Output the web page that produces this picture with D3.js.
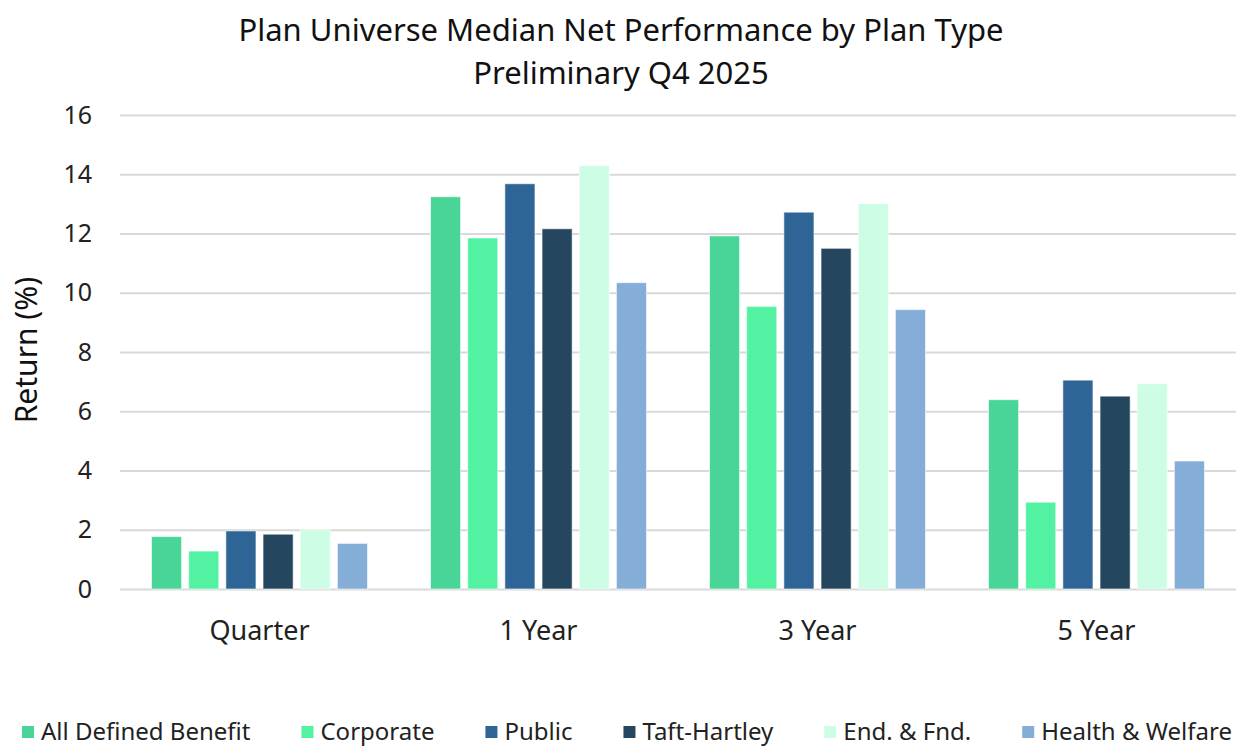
<!DOCTYPE html>
<html>
<head>
<meta charset="utf-8">
<script src="https://cdn.jsdelivr.net/npm/d3@7"></script>
<style>
  body { margin: 0; background: #fff; }
  svg { display: block; font-family: "Noto Sans", "Open Sans", sans-serif; }
</style>
</head>
<body>
<div id="chart"></div>
<script>
// data
var categories = ["Quarter", "1 Year", "3 Year", "5 Year"];
var seriesNames = ["All Defined Benefit", "Corporate", "Public", "Taft-Hartley", "End. & Fnd.", "Health & Welfare"];
var allDefinedBenefit = [1.77, 13.24, 11.92, 6.39];
var corporate = [1.28, 11.85, 9.54, 2.93];
var publicPlans = [1.96, 13.68, 12.72, 7.05];
var taftHartley = [1.85, 12.16, 11.50, 6.51];
var endFnd = [2.00, 14.29, 13.01, 6.93];
var healthWelfare = [1.54, 10.34, 9.43, 4.32];
var yTicks = [0, 2, 4, 6, 8, 10, 12, 14, 16];

var seriesValues = [allDefinedBenefit, corporate, publicPlans, taftHartley, endFnd, healthWelfare];
var colors = ["#48D597", "#52F2A2", "#2F6596", "#24465F", "#CDFDE4", "#84ADD8"];

var width = 1237, height = 751;
var plotLeft = 120, plotRight = 1236, plotTop = 115, plotBottom = 589;

var svg = d3.select("#chart")
    .append("svg")
    .attr("width", width)
    .attr("height", height);

var x0 = d3.scaleBand()
    .domain(categories)
    .range([plotLeft, plotRight]);

var x1 = d3.scaleBand()
    .domain(seriesNames)
    .range([31.5, x0.bandwidth() - 31.5])
    .paddingInner(0.19);

var y = d3.scaleLinear()
    .domain([0, 16])
    .range([plotBottom, plotTop]);

// gridlines
var yAxis = svg.append("g")
    .attr("class", "axis axis-y")
    .attr("transform", "translate(" + plotLeft + ",0)")
    .call(d3.axisLeft(y).tickValues(yTicks).tickSize(-(plotRight - plotLeft)).tickPadding(28));
yAxis.select(".domain").remove();
yAxis.selectAll(".tick line")
    .attr("stroke", "#D9D9D9")
    .attr("stroke-width", 2);
yAxis.selectAll(".tick text")
    .attr("fill", "#222")
    .style("font-size", "25px")
    .style("font-family", "Noto Sans");

// bars
var groups = svg.append("g")
    .selectAll("g")
    .data(categories)
    .enter()
    .append("g")
    .attr("transform", function(d) { return "translate(" + x0(d) + ",0)"; });

groups.selectAll("rect")
    .data(function(d, i) {
        return seriesNames.map(function(s, j) { return {series: s, value: seriesValues[j][i], idx: j}; });
    })
    .enter()
    .append("rect")
    .attr("x", function(d) { return x1(d.series); })
    .attr("width", x1.bandwidth())
    .attr("y", function(d) { return y(d.value); })
    .attr("height", function(d) { return y(0) - y(d.value); })
    .attr("fill", function(d) { return colors[d.idx]; })
    .attr("stroke", "rgba(255,255,255,0.6)")
    .attr("stroke-width", 1);

// x axis labels
var xAxis = svg.append("g")
    .attr("class", "axis axis-x")
    .attr("transform", "translate(0," + plotBottom + ")")
    .call(d3.axisBottom(x0).tickSize(0).tickPadding(32));
xAxis.select(".domain").remove();
xAxis.selectAll(".tick text")
    .attr("fill", "#222")
    .style("font-size", "27px")
    .style("font-family", "Noto Sans");

// titles
svg.append("text")
    .attr("x", 621)
    .attr("y", 41)
    .attr("text-anchor", "middle")
    .attr("fill", "#111")
    .style("font-size", "31px")
    .text("Plan Universe  Median Net Performance by Plan Type");

svg.append("text")
    .attr("x", 621)
    .attr("y", 84)
    .attr("text-anchor", "middle")
    .attr("fill", "#111")
    .style("font-size", "31px")
    .text("Preliminary Q4 2025");

svg.append("text")
    .attr("transform", "translate(37,350) rotate(-90)")
    .attr("text-anchor", "middle")
    .attr("fill", "#111")
    .style("font-size", "30px")
    .text("Return (%)");

// legend
var legend = svg.append("g").attr("class", "legend");
var items = legend.selectAll("g")
    .data(seriesNames)
    .enter()
    .append("g");

items.append("rect")
    .attr("width", 12)
    .attr("height", 12)
    .attr("y", -14)
    .attr("fill", function(d, i) { return colors[i]; });

items.append("text")
    .attr("x", 19)
    .attr("fill", "#222")
    .style("font-size", "24px")
    .text(function(d) { return d; });

var xpos = 22;
var total = 0;
items.each(function() {
    total += 19 + d3.select(this).select("text").node().getComputedTextLength();
});
// fit the row into the same span as the reference
var gap = (1232 - 22 - total) / (seriesNames.length - 1);
items.each(function() {
    var w = d3.select(this).select("text").node().getComputedTextLength();
    d3.select(this).attr("transform", "translate(" + xpos + ",740)");
    xpos += 19 + w + gap;
});
</script>
</body>
</html>
